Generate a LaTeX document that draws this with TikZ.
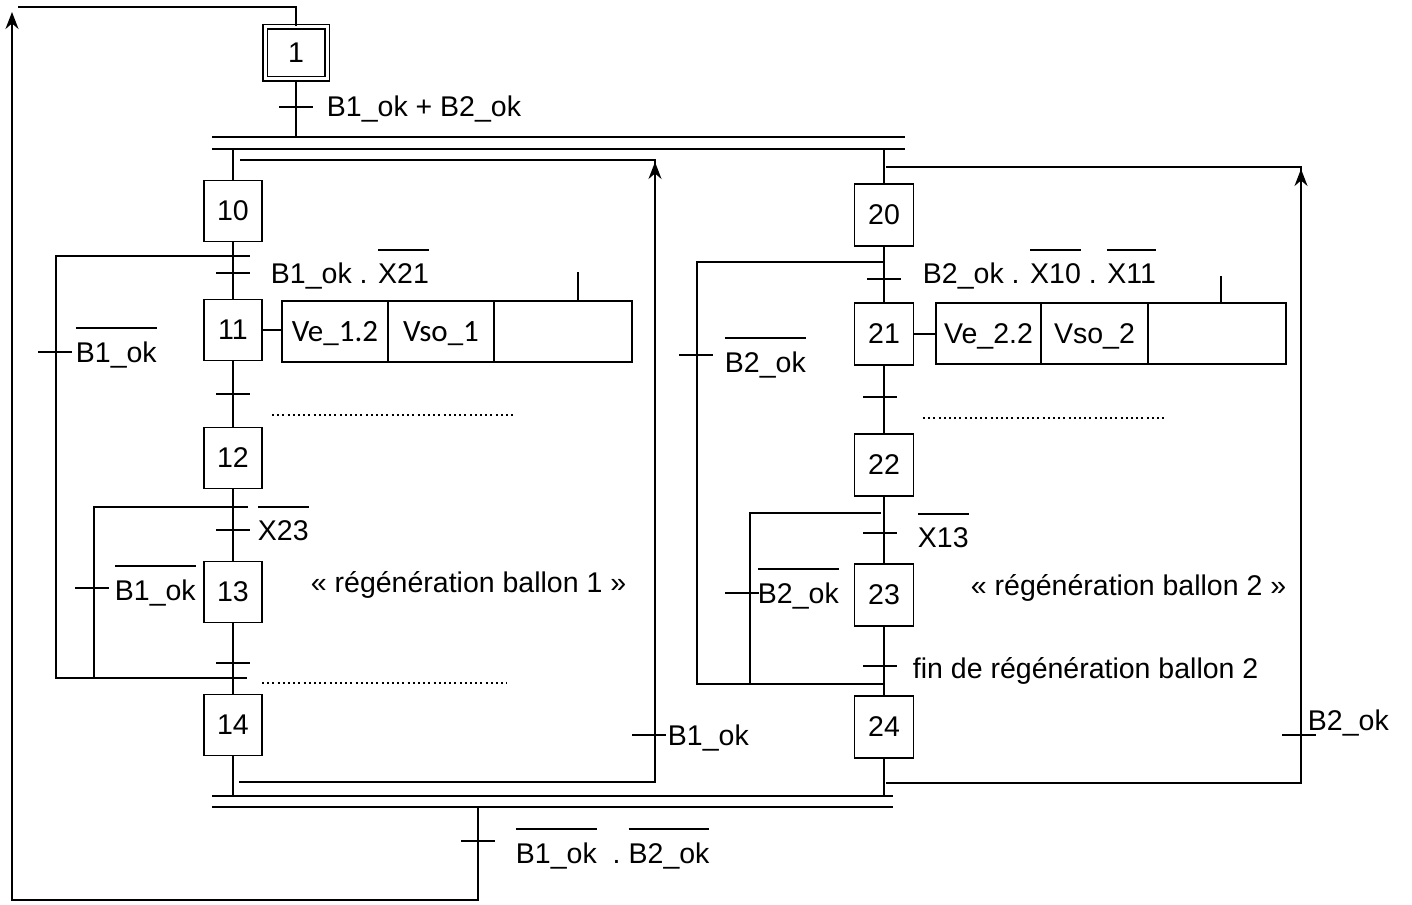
\documentclass[tikz,border=0pt]{standalone}
\usepackage{fontspec}
\setmainfont{Liberation Sans}
\newfontfamily\calib{Carlito}
\usetikzlibrary{arrows.meta}
\newcommand\ovl[1]{\vbox{\hrule height 1.7pt\kern 12.5pt\hbox{#1}}}
\begin{document}
\begin{tikzpicture}[x=1pt,y=-1pt, line width=1.9pt,
  every node/.style={font=\fontsize{28.5pt}{34pt}\selectfont, inner sep=0pt},
  stepbox/.style={draw, minimum width=58pt, minimum height=61pt},
  lab/.style={anchor=base west},
  cell/.style={draw, minimum height=61pt, text height=20pt, text depth=0pt},
  cellL/.style={cell, font=\calib\fontsize{31pt}{36pt}\selectfont},
  dotline/.style={dash pattern=on 2pt off 3.2pt, line width=2.2pt},
  arr/.style={-{Stealth[length=17pt,width=13pt]}}
]
\useasboundingbox (0,0) rectangle (1412,904);

% initial step
\node[draw, line width=1.7pt, double, double distance=3pt, minimum width=62pt, minimum height=52pt] (s1) at (296,53) {1};

% left sequence
\node[stepbox] (s10) at (233,211) {10};
\node[stepbox] (s11) at (233,330) {11};
\node[stepbox] (s12) at (233,458) {12};
\node[stepbox] (s13) at (233,592) {13};
\node[stepbox] (s14) at (233,725) {14};

% right sequence
\node[stepbox, minimum width=59pt, minimum height=62pt] (s20) at (884,215) {20};
\node[stepbox, minimum width=59pt, minimum height=62pt] (s21) at (884,334) {21};
\node[stepbox, minimum width=59pt, minimum height=62pt] (s22) at (884,465) {22};
\node[stepbox, minimum width=59pt, minimum height=62pt] (s23) at (884,595) {23};
\node[stepbox, minimum width=59pt, minimum height=62pt] (s24) at (884,727) {24};

% action boxes
\node[cellL, minimum width=106pt] (a11a) at (335,331.5) {Ve\_1.2};
\node[cellL, minimum width=106pt] (a11b) at (441,331.5) {Vso\_1};
\node[cell, minimum width=138pt] (a11c) at (563,331.5) {};
\node[cell, minimum width=105pt] (a21a) at (988.5,333.5) {Ve\_2.2};
\node[cell, minimum width=107pt] (a21b) at (1094.5,333.5) {Vso\_2};
\node[cell, minimum width=138pt] (a21c) at (1217,333.5) {};
\draw (s11.east) -- (s11.east -| a11a.west);
\draw (s21.east) -- (s21.east -| a21a.west);
\draw (a11c.north) ++(15,0) -- ++(0,-28);
\draw (a21c.north) ++(4,0) -- ++(0,-26);

% simultaneous bars
\draw (212,137) -- (905,137);
\draw (212,149) -- (905,149);
\draw (212,796) -- (893,796);
\draw (212,807) -- (893,807);

% coordinates
\coordinate (dt) at (296,137);
\coordinate (dL) at (233,149);
\coordinate (dR) at (884,149);
\coordinate (eL) at (233,796);
\coordinate (eR) at (884,796);

% main links
\draw (s1.south) -- (dt);
\draw (dL) -- (s10);
\draw (s10) -- (s11) -- (s12) -- (s13) -- (s14);
\draw (s14) -- (eL);
\draw (dR) -- (s20);
\draw (s20) -- (s21) -- (s22) -- (s23) -- (s24);
\draw (s24) -- (eR);

% transition ticks
\foreach \x/\y in {296/107, 233/273, 233/394, 233/530, 233/663,
                   884/279, 880/397, 880/533, 880/666, 478/841,
                   55/352, 92/588, 696/355, 742/593, 649/735, 1299/735}
  \draw (\x-17,\y) -- (\x+17,\y);

% left jumps
\coordinate (jA1) at (56,256); \coordinate (jA2) at (250,256);
\coordinate (jA3) at (56,678); \coordinate (jA4) at (247,678);
\draw (jA2) -- (jA1) -- (jA3) -- (jA4);
\coordinate (jB1) at (94,507); \coordinate (jB2) at (248,507);
\coordinate (jB3) at (94,678);
\draw (jB2) -- (jB1) -- (jB3);

% right jumps
\coordinate (jC1) at (697,262); \coordinate (jC2) at (884,262);
\coordinate (jC3) at (697,684); \coordinate (jC4) at (884,684);
\draw (jC2) -- (jC1) -- (jC3) -- (jC4);
\coordinate (jD1) at (750,513); \coordinate (jD2) at (881,513);
\coordinate (jD3) at (750,684);
\draw (jD2) -- (jD1) -- (jD3);

% return loops
\coordinate (rL1) at (239,782); \coordinate (rL2) at (655,782);
\coordinate (rL3) at (655,160); \coordinate (rL4) at (240,160);
\draw (rL1) -- (rL2) -- (rL3) -- (rL4);
\draw[arr] (655,240) -- (655,162);
\coordinate (rR1) at (886,783); \coordinate (rR2) at (1301,783);
\coordinate (rR3) at (1301,167); \coordinate (rR4) at (886,167);
\draw (rR1) -- (rR2) -- (rR3) -- (rR4);
\draw[arr] (1301,240) -- (1301,169);

% outer loop
\coordinate (o1) at (478,807); \coordinate (o2) at (478,900);
\coordinate (o3) at (12,900); \coordinate (o4) at (12,12);
\draw[arr] (o1) -- (o2) -- (o3) -- (o4);
\coordinate (o5) at (18,7); \coordinate (o6) at (296,7);
\draw (o5) -- (o6) -- (s1.north);

% dotted lines
\draw[dotline] (272,415) -- (516,415);
\draw[dotline] (262,683) -- (507,683);
\draw[dotline] (923,418) -- (1166,418);

% labels
\node[lab] (l1) at (326,117) {B1\_ok + B2\_ok};
\node[lab] (l10) at (270,283) {B1\_ok . \ovl{X21}};
\node[lab] (lA) at (75,362) {\ovl{B1\_ok}};
\node[lab] (l12) at (257,540) {\ovl{X23}};
\node[lab] (lB) at (114,600) {\ovl{B1\_ok}};
\node[lab] (lreg1) at (310,592) {« régénération ballon 1 »};
\node[lab] (lr1) at (667,745) {B1\_ok};
\node[lab] (l20) at (922,283) {B2\_ok . \ovl{X10} . \ovl{X11}};
\node[lab] (lC) at (724,372) {\ovl{B2\_ok}};
\node[lab] (l22) at (917,547) {\ovl{X13}};
\node[lab] (lD) at (757,603) {\ovl{B2\_ok}};
\node[lab] (lreg2) at (970,595) {« régénération ballon 2 »};
\node[lab] (l23) at (912,678) {fin de régénération ballon 2};
\node[lab] (lr2) at (1307,730) {B2\_ok};
\node[lab] (lend) at (515,863) {\ovl{B1\_ok}\hskip 16pt.\hskip 8pt\ovl{B2\_ok}};
\end{tikzpicture}
\end{document}
